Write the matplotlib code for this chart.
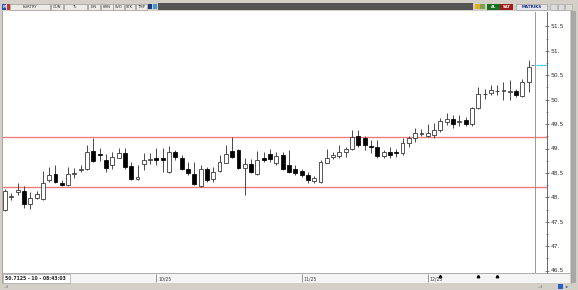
import matplotlib
matplotlib.use('Agg')
import matplotlib.pyplot as plt
from matplotlib.patches import Rectangle
import numpy as np

W, H = 578, 290

# daily EURTRY candles (open, high, low, close)
opens = [47.74, 48.00, 48.10, 48.13, 47.86, 47.98, 47.97, 48.35, 48.47, 48.30,
         48.25, 48.48, 48.55, 48.59, 48.95, 48.88, 48.76, 48.66, 48.81, 48.90,
         48.65, 48.38, 48.68, 48.77, 48.80, 48.80, 48.51, 48.92, 48.80, 48.57,
         48.48, 48.23, 48.57, 48.37, 48.54, 48.71, 48.95, 48.97, 48.60, 48.68,
         48.48, 48.81, 48.88, 48.71, 48.87, 48.66, 48.59, 48.54, 48.46, 48.34,
         48.32, 48.71, 48.83, 48.85, 48.93, 49.00, 49.26, 49.21, 49.05, 49.04,
         48.85, 48.93, 48.92, 48.90, 49.12, 49.21, 49.30, 49.26, 49.28, 49.38,
         49.55, 49.60, 49.55, 49.58, 49.50, 49.84, 50.11, 50.13, 50.17, 50.18,
         50.16, 50.18, 50.08, 50.37]
highs = [48.16, 48.08, 48.29, 48.24, 48.11, 48.13, 48.54, 48.63, 48.66, 48.35,
         48.63, 48.60, 48.66, 49.07, 49.21, 49.01, 48.89, 48.93, 49.01, 49.01,
         48.73, 48.66, 48.90, 48.90, 49.02, 49.02, 49.06, 48.97, 48.87, 48.73,
         48.73, 48.66, 48.63, 48.63, 48.87, 49.07, 49.24, 48.98, 48.80, 48.78,
         48.95, 48.93, 49.00, 48.93, 48.93, 48.97, 48.66, 48.59, 48.52, 48.44,
         48.76, 49.00, 48.93, 49.07, 49.04, 49.38, 49.38, 49.26, 49.17, 49.17,
         48.97, 49.04, 49.00, 49.21, 49.26, 49.43, 49.39, 49.50, 49.52, 49.62,
         49.73, 49.69, 49.69, 49.65, 49.86, 50.27, 50.21, 50.30, 50.30, 50.37,
         50.40, 50.21, 50.42, 50.81]
lows = [47.72, 47.95, 48.05, 47.78, 47.77, 47.96, 47.95, 48.32, 48.29, 48.24,
        48.24, 48.40, 48.51, 48.56, 48.73, 48.74, 48.52, 48.59, 48.80, 48.59,
        48.35, 48.35, 48.56, 48.68, 48.66, 48.51, 48.49, 48.76, 48.56, 48.46,
        48.25, 48.22, 48.32, 48.32, 48.52, 48.70, 48.80, 48.59, 48.05, 48.49,
        48.46, 48.73, 48.73, 48.66, 48.55, 48.50, 48.46, 48.42, 48.29, 48.30,
        48.30, 48.70, 48.78, 48.80, 48.83, 48.97, 49.04, 48.97, 48.90, 48.80,
        48.80, 48.80, 48.83, 48.87, 49.04, 49.14, 49.26, 49.24, 49.21, 49.34,
        49.48, 49.43, 49.46, 49.46, 49.46, 49.80, 50.01, 50.10, 50.10, 50.00,
        50.00, 50.06, 50.05, 50.16]
closes = [48.13, 48.02, 48.15, 47.86, 47.99, 48.07, 48.30, 48.46, 48.31, 48.25,
          48.47, 48.50, 48.57, 48.93, 48.74, 48.86, 48.61, 48.83, 48.90, 48.63,
          48.38, 48.41, 48.76, 48.79, 48.76, 48.76, 48.93, 48.83, 48.59, 48.49,
          48.27, 48.59, 48.35, 48.52, 48.72, 48.88, 48.83, 48.61, 48.68, 48.52,
          48.76, 48.76, 48.78, 48.85, 48.57, 48.52, 48.50, 48.46, 48.35, 48.39,
          48.72, 48.80, 48.87, 48.93, 48.98, 49.24, 49.07, 49.07, 49.03, 48.85,
          48.93, 48.87, 48.90, 49.12, 49.21, 49.31, 49.32, 49.31, 49.38, 49.56,
          49.60, 49.50, 49.57, 49.50, 49.84, 50.12, 50.12, 50.20, 50.18, 50.18,
          50.17, 50.10, 50.37, 50.68]

last_price = 50.7125
support = 48.21
resistance = 49.23

price_ticks = [46.5, 47.0, 47.5, 48.0, 48.5, 49.0, 49.5, 50.0, 50.5, 51.0, 51.5]
price_labels = ['46.5', '47.', '47.5', '48.', '48.5', '49.', '49.5', '50.', '50.5', '51.', '51.5']
date_pos = [24, 47, 67]
date_labels = ['10/25', '11/25', '12/25']
event_pos = [69, 75, 78]
status_text = '50.7125 - 10 - 08:43:03'

toolbar_left = [('EURTRY', 10, 50), ('GÜN', 51, 63), ('TL', 64, 87), ('LIN', 88, 100),
                ('KRN', 101, 112.5), ('5VD', 113, 124), ('STK', 124.5, 135), ('TMP', 136, 147)]


def px(x0, y0, x1, y1):
    return [x0 / W, 1 - y1 / H, (x1 - x0) / W, (y1 - y0) / H]


def box(ax, x0, y0, x1, y1, fc, ec='none', lw=0.5):
    ax.add_patch(Rectangle((x0, y0), x1 - x0, y1 - y0, facecolor=fc, edgecolor=ec, linewidth=lw))


fig = plt.figure(figsize=(W / 100, H / 100), dpi=100, facecolor='#d4d0c8')

# window chrome, in pixel coordinates
fr = fig.add_axes([0, 0, 1, 1])
fr.set_xlim(0, W)
fr.set_ylim(H, 0)
fr.axis('off')
box(fr, 0, 0, W, H, '#d4d0c8')
box(fr, 3, 11, 570, 273, 'white')
box(fr, 3, 273.5, 570, 283, '#f4f4f4')
fr.plot([3, 570], [273.3, 273.3], color='#a0a0a0', lw=0.5)
fr.plot([570.5, 570.5], [11, 283], color='#909090', lw=0.5)
box(fr, 571.5, 11, 576, 283, '#a8a8a8')
fr.plot([1.5, 1.5], [11, 283], color='#a0a0a0', lw=0.6)

# top toolbar
box(fr, 2, 3.5, 6, 9.5, '#2050b0')
fr.text(4, 6.6, 'M', fontsize=2.6, color='white', ha='center', va='center', weight='bold')
box(fr, 6.5, 3.5, 10, 9.5, '#c83030')
for name, x0, x1 in toolbar_left:
    box(fr, x0, 3.5, x1, 9.5, '#ecebe6', ec='#8c8c8c', lw=0.4)
    fr.text((x0 + x1) / 2, 6.7, name, fontsize=2.7, color='#303030', ha='center', va='center')
box(fr, 148, 4, 152, 9, '#203880')
box(fr, 152.5, 4, 157, 9, '#3c9ad8')
box(fr, 158, 3, 473, 10, '#555555')
box(fr, 475, 4, 479.5, 9, '#e0b020')
box(fr, 480, 4, 485, 9, '#7aa050')
box(fr, 487, 3.5, 500, 9.5, '#16701e')
fr.text(493.5, 6.7, 'AL', fontsize=2.7, color='white', ha='center', va='center', weight='bold')
box(fr, 500, 3.5, 513, 9.5, '#a01c1c')
fr.text(506.5, 6.7, 'SAT', fontsize=2.7, color='white', ha='center', va='center', weight='bold')
box(fr, 516, 3.5, 547, 9.5, '#e6e6ee', ec='#8c8c8c', lw=0.4)
fr.text(531.5, 6.7, 'MATRIKS', fontsize=2.9, color='#1c2c8c', ha='center', va='center', weight='bold')
for x0 in [550, 557.5, 565]:
    box(fr, x0, 3.5, x0 + 6.5, 9.5, '#dcdcdc', ec='#a0a0a0', lw=0.4)

# bottom status area
box(fr, 3, 274, 70, 282.5, 'white', ec='#909090', lw=0.4)
fr.text(5, 278.4, status_text, fontsize=3.3, color='#202020', va='center', weight='bold')
fr.text(4, 287, '..ıl', fontsize=3, color='#606060', va='center')
fr.text(538, 287, '..ıl', fontsize=3, color='#606060', va='center')
box(fr, 558, 284, 563, 289, '#2a60c0')
fr.text(567, 286.5, '◂▸', fontsize=3, color='#2a60c0', ha='center', va='center')

# price chart
x_left = -2 / 6.31
x_right = 544 / 6.31 + x_left
y_top = 49 + 136.5 / 48.8
y_bot = 49 - 124.5 / 48.8

ax = fig.add_axes(px(3, 12, 547, 273))
ax.set_facecolor('none')
ax.set_xlim(x_left, x_right)
ax.set_ylim(y_bot, y_top)

o = np.array(opens)
c = np.array(closes)
x = np.arange(len(o))
up = c >= o
ax.vlines(x, lows, highs, color='#3c3c3c', lw=0.65, zorder=2)
bottoms = np.minimum(o, c)
heights = np.maximum(np.abs(c - o), 0.012)
ax.bar(x[up], heights[up], bottom=bottoms[up], width=0.62, color='white',
       edgecolor='#2a2a2a', linewidth=0.55, zorder=3)
ax.bar(x[~up], heights[~up], bottom=bottoms[~up], width=0.62, color='black',
       edgecolor='black', linewidth=0.55, zorder=3)

ax.axhline(resistance, color='#f07878', lw=0.95, zorder=1)
ax.axhline(support, color='#f07878', lw=0.95, zorder=1)

n = len(o)
ax.axvline(n, color='#8a8a8a', lw=0.6, zorder=1)
ax.hlines(last_price, n - 0.65, n - 0.1, color='#707070', lw=0.7, zorder=3)
ax.hlines(last_price, n + 0.1, x_right, color='#40d8e8', lw=0.9, zorder=3)

for s in ['left', 'top', 'bottom']:
    ax.spines[s].set_visible(False)
ax.spines['right'].set_color('#505050')
ax.spines['right'].set_linewidth(0.6)
ax.set_xticks([])
ax.yaxis.tick_right()
ax.set_yticks(price_ticks)
ax.set_yticklabels(price_labels)
ax.set_yticks([p + 0.25 for p in price_ticks[:-1]], minor=True)
ax.tick_params(axis='y', which='major', direction='inout', length=3.5, width=0.5,
               pad=0.8, labelsize=4.3, labelcolor='#303030', colors='#505050')
ax.tick_params(axis='y', which='minor', direction='inout', length=2, width=0.4, colors='#505050')
for lab in ax.get_yticklabels():
    lab.set_color('#303030')

# date axis row
dx = fig.add_axes(px(3, 273.5, 547, 283))
dx.set_facecolor('none')
dx.set_xlim(x_left, x_right)
dx.set_ylim(0, 1)
dx.axis('off')
for p, lab in zip(date_pos, date_labels):
    dx.vlines(p, 0.12, 0.9, color='#707070', lw=0.5)
    dx.text(p + 0.25, 0.45, lab, fontsize=3.3, color='#404040', va='center')
dx.plot(event_pos, [0.75] * len(event_pos), linestyle='none', marker='^',
        markersize=1.8, color='black')

fig.savefig('out.png', dpi=100, facecolor=fig.get_facecolor())
